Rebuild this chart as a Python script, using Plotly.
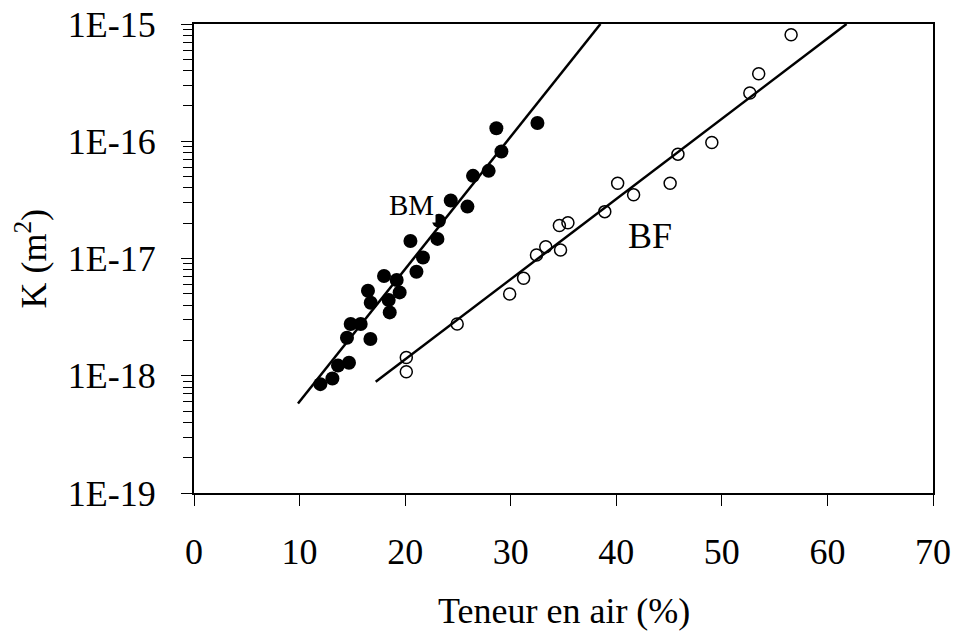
import math
import plotly.graph_objects as go

# --- Data ---
bm_x = [11.97, 13.11, 13.64, 14.68, 14.49, 14.84, 15.79, 16.71, 16.48, 16.74,
        18.00, 18.44, 18.54, 19.20, 19.48, 20.50, 21.07, 21.69, 23.06, 24.32,
        25.90, 26.43, 27.91, 28.64, 29.12, 32.53, 23.20]
bm_k = [8.48e-19, 9.48e-19, 1.22e-18, 1.29e-18, 2.11e-18, 2.76e-18, 2.76e-18, 2.06e-18, 5.31e-18, 4.19e-18,
        7.09e-18, 4.42e-18, 3.47e-18, 6.55e-18, 5.14e-18, 1.41e-17, 7.71e-18, 1.02e-17, 1.47e-17, 3.12e-17,
        2.77e-17, 5.07e-17, 5.59e-17, 1.29e-16, 8.17e-17, 1.43e-16, 2.10e-17]

bf_x = [20.11, 20.11, 24.93, 29.90, 31.22, 32.44, 33.32, 34.72, 34.61, 35.42,
        38.91, 40.13, 41.64, 45.10, 45.84, 49.05, 52.65, 53.49, 56.56]
bf_k = [1.08e-18, 1.43e-18, 2.76e-18, 4.98e-18, 6.78e-18, 1.07e-17, 1.26e-17, 1.18e-17, 1.91e-17, 2.02e-17,
        2.51e-17, 4.39e-17, 3.49e-17, 4.39e-17, 7.76e-17, 9.75e-17, 2.58e-16, 3.76e-16, 8.1e-16]

bm_fit_x = [9.85, 38.50]
bm_fit_k = [5.79e-19, 1.0e-15]
bf_fit_x = [17.21, 61.81]
bf_fit_k = [8.87e-19, 1.0e-15]

x_ticks = [0, 10, 20, 30, 40, 50, 60, 70]
y_ticks = [1e-19, 1e-18, 1e-17, 1e-16, 1e-15]
y_ticktext = ["1E-19", "1E-18", "1E-17", "1E-16", "1E-15"]

labels = ["BM", "BF"]
label_x = [20.62, 43.21]
label_k = [2.86e-17, 1.57e-17]

x_title = "Teneur en air (%)"
y_title = "K (m<sup>2</sup>)"

FONT = "Liberation Serif"

minor_vals = [m * 10.0 ** e for e in range(-19, -15) for m in range(2, 10)]

fig = go.Figure()
fig.add_trace(go.Scatter(x=bm_x, y=bm_k, mode="markers",
                         marker=dict(symbol="circle", size=14, color="black"),
                         showlegend=False))
fig.add_trace(go.Scatter(x=bf_x, y=bf_k, mode="markers",
                         marker=dict(symbol="circle-open", size=12, color="black",
                                     line=dict(width=1.5, color="black")),
                         showlegend=False))
fig.add_trace(go.Scatter(x=bm_fit_x, y=bm_fit_k, mode="lines",
                         line=dict(color="black", width=2.5), showlegend=False))
fig.add_trace(go.Scatter(x=bf_fit_x, y=bf_fit_k, mode="lines",
                         line=dict(color="black", width=2.5), showlegend=False))

fig.add_annotation(x=label_x[0], y=math.log10(label_k[0]), text=labels[0], showarrow=False,
                   font=dict(family=FONT, size=29, color="black"), bgcolor="white",
                   xref="x", yref="y")
fig.add_annotation(x=label_x[1], y=math.log10(label_k[1]), text=labels[1], showarrow=False,
                   font=dict(family=FONT, size=36, color="black"),
                   xref="x", yref="y")

# axis titles
fig.add_annotation(x=0.5, y=-0.252, xref="paper", yref="paper", text=x_title,
                   showarrow=False, font=dict(family=FONT, size=36, color="black"),
                   xanchor="center", yanchor="middle")
fig.add_annotation(x=(31 - 194) / 739.0, y=0.5, xref="paper", yref="paper", text=y_title,
                   showarrow=False, textangle=-90, font=dict(family=FONT, size=36, color="black"),
                   xanchor="center", yanchor="middle")

fig.update_layout(
    width=957, height=636,
    margin=dict(l=194, r=24, t=24, b=143, autoexpand=False),
    paper_bgcolor="white", plot_bgcolor="white",
    font=dict(family=FONT, size=36, color="black"),
    xaxis=dict(range=[0, 70], tickvals=x_ticks, ticks="outside", ticklen=11, tickwidth=1,
               tickcolor="black", showline=True, linecolor="black", linewidth=2, mirror=True,
               showgrid=False, zeroline=False, ticklabelstandoff=15, automargin=False,
               tickfont=dict(family=FONT, size=36, color="black")),
    yaxis=dict(type="log", range=[-19, -15], tickvals=y_ticks, ticktext=y_ticktext,
               ticks="outside", ticklen=11, tickwidth=1, tickcolor="black",
               showline=True, linecolor="black", linewidth=2, mirror=True,
               showgrid=False, zeroline=False, ticklabelstandoff=18, automargin=False,
               tickfont=dict(family=FONT, size=36, color="black"),
               minor=dict(tickmode="array", tickvals=minor_vals, ticks="outside", ticklen=9,
                          tickwidth=1, tickcolor="black", showgrid=False)),
)

fig.write_html("out.html")
